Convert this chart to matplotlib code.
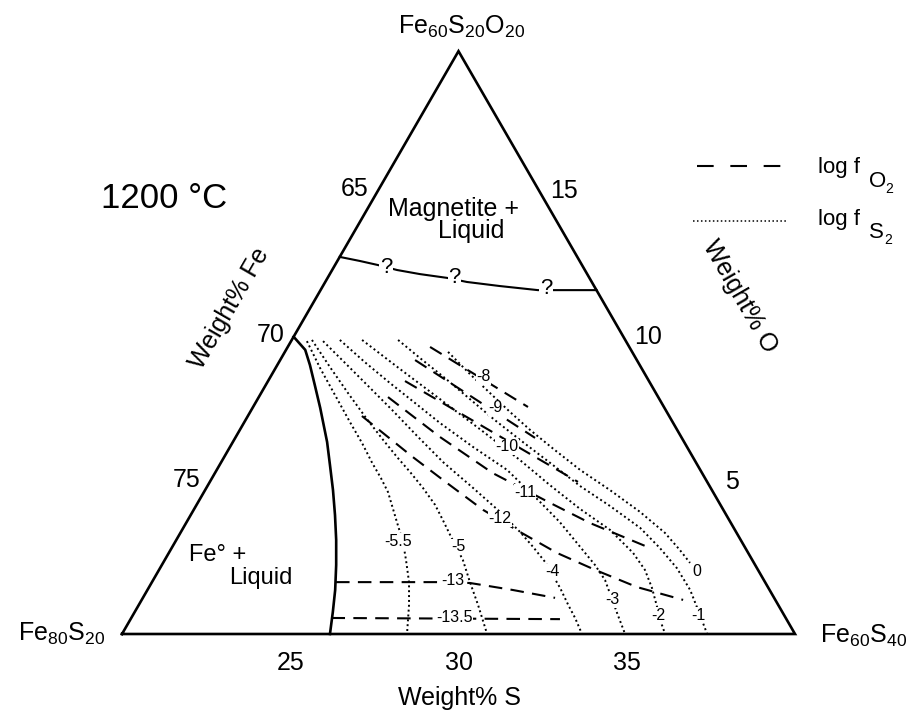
import numpy as np
import matplotlib
matplotlib.use("Agg")
import matplotlib.pyplot as plt

plt.rcParams['font.family'] = ['Liberation Sans', 'DejaVu Sans']
plt.rcParams['mathtext.fontset'] = 'custom'
plt.rcParams['mathtext.rm'] = 'Liberation Sans'
plt.rcParams['mathtext.it'] = 'Liberation Sans:italic'

W, H = 907, 711
PX = 33.65          # pixels per wt% along the triangle
X0, Y0 = 122, 634   # pixel position of the Fe80S20 corner

# ---------------- data (wt% S, wt% O) ----------------
fe_ticks = [65, 70, 75]
o_ticks = [15, 10, 5]
s_ticks = [25, 30, 35]

# Fe + liquid boundary
feliq_S = [20.00, 20.57, 20.97, 21.46, 22.01, 22.80, 23.28, 23.80, 24.29, 24.75, 25.18, 25.58, 25.89, 26.18]
feliq_O = [10.20, 9.75, 9.23, 8.54, 7.76, 6.59, 5.80, 4.94, 4.08, 3.23, 2.37, 1.51, 0.75, 0.00]

# magnetite + liquid boundary (uncertain)
mag_S = [20.00, 20.67, 21.28, 21.93, 22.68, 23.55, 24.21, 25.26, 26.46, 27.03, 28.20]
mag_O = [12.94, 12.80, 12.66, 12.49, 12.35, 12.22, 12.08, 11.94, 11.80, 11.80, 11.80]
mag_q_S = [21.55, 23.77, 26.68]
mag_q_O = [12.59, 12.22, 11.86]

# log fS2 isopleths (dotted)
fs2_m55_S = [20.47, 21.32, 22.23, 23.14, 23.86, 24.50, 25.02, 25.47, 26.25, 26.77, 27.17, 27.64, 28.03, 28.47]
fs2_m55_O = [10.05, 9.13, 8.20, 7.27, 6.55, 5.87, 5.35, 4.87, 3.84, 3.16, 2.54, 1.78, 1.00, 0.00]
fs2_m5_S = [20.60, 21.60, 22.58, 23.55, 24.43, 25.14, 25.78, 26.44, 27.09, 27.58, 28.05, 28.86, 29.45, 30.08, 30.85]
fs2_m5_O = [10.09, 9.16, 8.27, 7.41, 6.66, 6.07, 5.56, 5.01, 4.43, 3.91, 3.40, 2.54, 1.78, 1.00, 0.00]
fs2_m4_S = [20.95, 21.98, 23.06, 24.18, 25.42, 26.59, 27.93, 29.14, 30.08, 30.72, 31.34, 32.23, 32.76, 33.19, 33.67]
fs2_m4_O = [10.05, 9.30, 8.51, 7.69, 6.76, 5.90, 5.01, 4.19, 3.50, 2.99, 2.47, 1.58, 1.00, 0.55, 0.00]
fs2_m3_S = [21.43, 22.55, 23.66, 24.74, 25.83, 27.22, 28.63, 29.45, 30.16, 31.09, 32.12, 32.87, 33.43, 34.41, 34.95]
fs2_m3_O = [10.09, 9.33, 8.61, 7.93, 7.24, 6.42, 5.63, 5.04, 4.53, 3.84, 2.99, 2.37, 1.85, 0.65, 0.00]
fs2_m2_S = [22.09, 23.72, 25.42, 27.12, 28.84, 30.16, 31.47, 32.72, 33.80, 34.44, 34.96, 35.89, 36.14]
fs2_m2_O = [10.09, 9.09, 8.06, 7.03, 5.97, 5.11, 4.29, 3.57, 2.78, 2.20, 1.58, 0.31, 0.00]
fs2_m1_S = [23.16, 24.12, 25.21, 26.31, 27.41, 28.50, 29.79, 31.07, 32.31, 33.58, 34.51, 35.36, 36.13, 36.71, 37.39]
fs2_m1_O = [10.09, 9.47, 8.78, 8.06, 7.34, 6.66, 5.87, 5.08, 4.39, 3.64, 2.95, 2.26, 1.51, 0.82, 0.00]
fs2_0_S = [24.85, 25.88, 26.80, 27.72, 28.63, 29.71, 30.80, 32.03, 33.30, 34.40, 35.14, 35.66]
fs2_0_O = [9.68, 8.92, 8.27, 7.62, 7.00, 6.31, 5.63, 4.94, 4.19, 3.47, 2.88, 2.44]
fs2_labels = ['-5.5', '-5', '-4', '-3', '-2', '-1', '0']
fs2_label_S = [26.61, 28.49, 31.72, 33.98, 35.60, 36.79, 36.02]
fs2_label_O = [3.19, 2.99, 2.13, 1.17, 0.65, 0.65, 2.13]

# log fO2 isopleths (dashed)
fo2_m8_S = [24.23, 28.17]
fo2_m8_O = [9.85, 7.79]
fo2_m9_S = [24.01, 28.91]
fo2_m9_O = [9.40, 6.73]
fo2_m10_S = [24.07, 30.94]
fo2_m10_O = [8.68, 5.22]
fo2_m11_S = [23.84, 26.07, 28.26, 30.47, 32.00, 34.22]
fo2_m11_O = [8.13, 6.76, 5.52, 4.50, 3.81, 2.95]
fo2_m12_S = [23.39, 25.61, 27.07, 28.60, 30.08, 31.54, 32.96, 34.50, 36.09]
fo2_m12_O = [7.48, 6.07, 5.18, 4.26, 3.50, 2.78, 2.20, 1.61, 1.17]
fo2_m13_S = [25.47, 28.47, 29.47, 30.86, 32.25]
fo2_m13_O = [1.78, 1.78, 1.75, 1.51, 1.24]
fo2_m135_S = [25.95, 32.76]
fo2_m135_O = [0.55, 0.51]
fo2_labels = ['-8', '-9', '-10', '-11', '-12', '-13', '-13.5']
fo2_label_S = [26.32, 27.21, 28.23, 29.54, 29.26, 28.91, 29.60]
fo2_label_O = [8.82, 7.76, 6.42, 4.87, 3.95, 1.85, 0.58]

fs2_lines = [(fs2_m55_S, fs2_m55_O), (fs2_m5_S, fs2_m5_O), (fs2_m4_S, fs2_m4_O),
             (fs2_m3_S, fs2_m3_O), (fs2_m2_S, fs2_m2_O), (fs2_m1_S, fs2_m1_O),
             (fs2_0_S, fs2_0_O)]
fo2_lines = [(fo2_m8_S, fo2_m8_O), (fo2_m9_S, fo2_m9_O), (fo2_m10_S, fo2_m10_O),
             (fo2_m11_S, fo2_m11_O), (fo2_m12_S, fo2_m12_O), (fo2_m13_S, fo2_m13_O),
             (fo2_m135_S, fo2_m135_O)]


def tern(S, O):
    S = np.asarray(S, dtype=float)
    O = np.asarray(O, dtype=float)
    return (S - 20.0) + O / 2.0, O * np.sqrt(3) / 2.0


def ftext(px, py, s, **kw):
    fig.text(px / W, 1 - py / H, s, **kw)


fig = plt.figure(figsize=(W / 100, H / 100), dpi=100)
ax = fig.add_axes([0, 0, 1, 1])
ax.set_xlim(-X0 / PX, (W - X0) / PX)
ax.set_ylim(-(H - Y0) / PX, Y0 / PX)
ax.axis('off')

# triangle
tx, ty = tern([20, 40, 20, 20], [0, 0, 20, 0])
ax.plot(tx, ty, color='black', lw=1.9, solid_joinstyle='miter', zorder=4)

# boundaries
x, y = tern(feliq_S, feliq_O)
ax.plot(x, y, color='black', lw=1.9, zorder=3)
x, y = tern(mag_S, mag_O)
ax.plot(x, y, color='black', lw=1.5, zorder=3)
for s, o in zip(mag_q_S, mag_q_O):
    qx, qy = tern(s, o)
    ax.text(qx, qy, '?', fontsize=16, ha='center', va='center', zorder=5,
            bbox=dict(facecolor='white', edgecolor='none', pad=0.5))

# isopleths
for (s, o) in fs2_lines:
    x, y = tern(s, o)
    ax.plot(x, y, color='black', lw=1.4, linestyle=(0, (1, 1.5)), zorder=2)
for (s, o) in fo2_lines:
    x, y = tern(s, o)
    ax.plot(x, y, color='black', lw=1.5, linestyle=(0, (6.5, 4)), zorder=2)

for lab, s, o in zip(fs2_labels + fo2_labels, fs2_label_S + fo2_label_S, fs2_label_O + fo2_label_O):
    lx, ly = tern(s, o)
    ax.text(lx, ly, lab, fontsize=11.5, ha='center', va='center', zorder=5,
            bbox=dict(facecolor='white', edgecolor='none', pad=0.2))

# tick labels
for fe in fe_ticks:
    px_, py_ = tern(20, 80 - fe)
    ax.annotate(str(fe), (px_, py_), xytext=(-20, 8), textcoords='offset pixels',
                ha='center', va='center', fontsize=18)
for o in o_ticks:
    px_, py_ = tern(40 - o, o)
    ax.annotate(str(o), (px_, py_), xytext=(21, 6), textcoords='offset pixels',
                ha='center', va='center', fontsize=18)
for s in s_ticks:
    px_, py_ = tern(s, 0)
    ax.annotate(str(s), (px_, py_), xytext=(0, -29), textcoords='offset pixels',
                ha='center', va='center', fontsize=18)

# axis titles
ftext(229, 308, 'Weight% Fe', rotation=60, ha='center', va='center', fontsize=18, rotation_mode='anchor')
ftext(740, 296, 'Weight% O', rotation=-60, ha='center', va='center', fontsize=18, rotation_mode='anchor')
ftext(460, 698, 'Weight% S', ha='center', va='center', fontsize=18)

# corner labels
ftext(62, 634, r'$\mathregular{Fe_{80}S_{20}}$', ha='center', va='center', fontsize=18)
ftext(864, 636, r'$\mathregular{Fe_{60}S_{40}}$', ha='center', va='center', fontsize=18)
ftext(462, 27, r'$\mathregular{Fe_{60}S_{20}O_{20}}$', ha='center', va='center', fontsize=18)

# field labels
ftext(164, 198, '1200 °C', ha='center', va='center', fontsize=25)
ftext(454, 209, 'Magnetite +', ha='center', va='center', fontsize=18)
ftext(471, 231, 'Liquid', ha='center', va='center', fontsize=18)
ftext(218, 555, 'Fe° +', ha='center', va='center', fontsize=17)
ftext(261, 578, 'Liquid', ha='center', va='center', fontsize=17)

# legend
ax.plot([697 / W, 788 / W], [1 - 166 / H, 1 - 166 / H], transform=ax.transAxes,
        color='black', lw=1.5, linestyle=(0, (8, 8)))
ax.plot([693 / W, 787 / W], [1 - 221 / H, 1 - 221 / H], transform=ax.transAxes,
        color='black', lw=1.1, linestyle=(0, (1, 1.6)))
ftext(818, 173, 'log f', ha='left', va='baseline', fontsize=16)
ftext(869, 187, 'O', ha='left', va='baseline', fontsize=16)
ftext(885, 193, '2', ha='left', va='baseline', fontsize=10)
ftext(818, 225, 'log f', ha='left', va='baseline', fontsize=16)
ftext(869, 238, 'S', ha='left', va='baseline', fontsize=16)
ftext(884, 244, '2', ha='left', va='baseline', fontsize=10)

fig.savefig('out.png', dpi=100)
